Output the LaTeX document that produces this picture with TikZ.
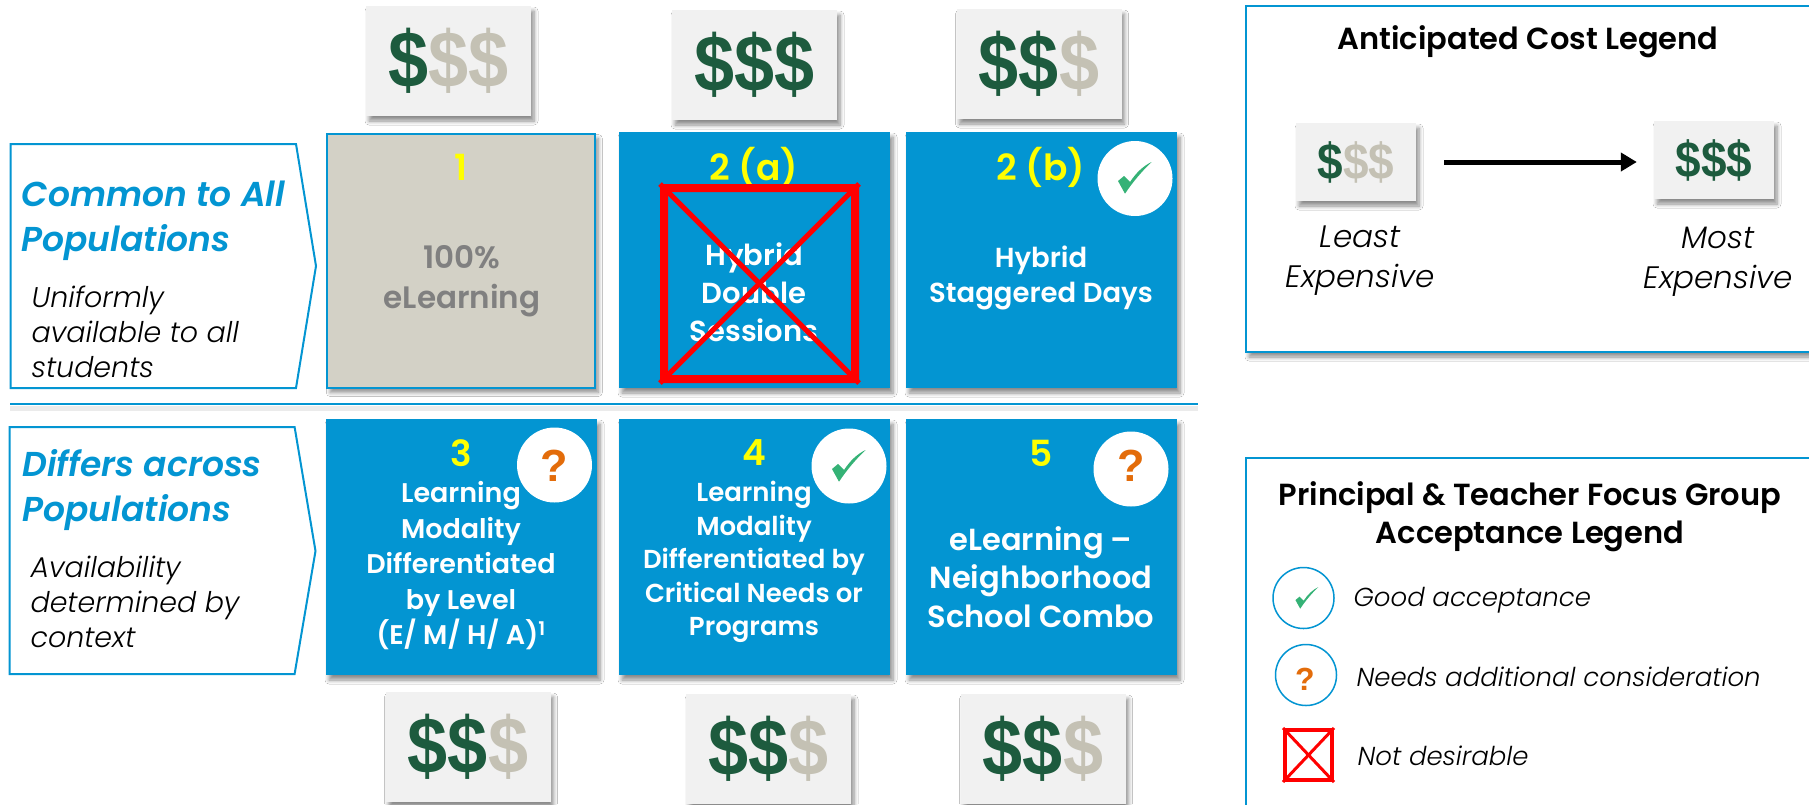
\documentclass[tikz,border=0pt]{standalone}
\usepackage{fontspec}
\setmainfont{Poppins}[UprightFont=* SemiBold,ItalicFont=* Light Italic,BoldFont=* SemiBold,BoldItalicFont=* SemiBold Italic]
\newfontfamily\costfont{Liberation Sans}[FakeStretch=0.9]
\newfontfamily\askfont{Liberation Sans}
\usetikzlibrary{shadows.blur,arrows.meta}
\definecolor{planblue}{HTML}{0395D2}
\definecolor{costgreen}{HTML}{1D5B3E}
\definecolor{costgrey}{HTML}{C4C1B4}
\definecolor{tagfill}{HTML}{F1F1F1}
\definecolor{elearnfill}{HTML}{D3D1C6}
\definecolor{checkgreen}{HTML}{35B276}
\definecolor{askorange}{HTML}{E36C0A}
\definecolor{numyellow}{HTML}{FFFF00}
\newcommand{\pxfont}[2]{\fontsize{#1}{#2}\selectfont}
\newcommand{\pricesigns}[2]{\textcolor{costgreen}{#1}\textcolor{costgrey}{#2}}
\tikzset{
  softshadow/.style={blur shadow={shadow xshift=3pt,shadow yshift=-5pt,shadow blur radius=4pt,shadow blur steps=6,shadow opacity=45}},
  pricetag/.style={fill=tagfill,inner sep=0pt,minimum width=165,minimum height=110,softshadow,font=\costfont\bfseries\pxfont{80}{80}},
  smalltag/.style={fill=tagfill,inner sep=0pt,minimum width=120,minimum height=78,softshadow,font=\costfont\bfseries\pxfont{51}{51}},
  planbox/.style={fill=planblue,inner sep=0pt,minimum width=271,minimum height=256,softshadow},
  cardnum/.style={text=numyellow,font=\bfseries\pxfont{36}{36}},
  cardtext/.style={text=white,align=center,font=\bfseries},
  groupbox/.style={draw=planblue,line width=2pt,fill=white},
  grouphead/.style={text=planblue,align=left,anchor=west,font=\bfseries\itshape\pxfont{34.5}{45}},
  groupnote/.style={text=black,align=left,anchor=west,font=\itshape\pxfont{28.5}{35}},
  legendbox/.style={draw=planblue,line width=2pt,fill=white,softshadow},
  legendhead/.style={text=black,align=center,font=\bfseries\pxfont{30.5}{38}},
  legendnote/.style={text=black,anchor=west,font=\itshape\pxfont{26}{30}},
  badge/.style={circle,fill=white,inner sep=0pt,minimum size=75},
  keyring/.style={circle,draw=planblue,line width=1.5pt,fill=white,inner sep=0pt,minimum size=61},
  askmark/.style={text=askorange,inner sep=0pt,font=\askfont\bfseries\pxfont{45}{45}},
  crossbox/.style={draw=red,line width=8pt,rounded corners=1pt},
  crossline/.style={draw=red,line width=5pt},
  checkmark/.pic={\fill[checkgreen] (-17,3) -- (-11,-2) -- (-5,4) .. controls (1,-5) and (8,-12) .. (16.6,-16) .. controls (7,-7) and (-3,5) .. (-10,15.7) -- cycle;}
}
\begin{document}
\begin{tikzpicture}[x=1pt,y=-1pt]
    \useasboundingbox (0,0) rectangle (1809,804);
    \fill[white] (0,0) rectangle (1809,804);
    % top row of price tags
    \node[pricetag] (tagA) at (448.5,61) {\pricesigns{\$}{\$\$}};
    \node[pricetag] (tagB) at (754.5,65) {\pricesigns{\$\$\$}{}};
    \node[pricetag] (tagC) at (1039,64) {\pricesigns{\$\$}{\$}};
    % groups
    \draw[groupbox] (10.7,144) -- (296,144) -- (316,266) -- (296,388) -- (10.7,388) -- cycle;
    \draw[groupbox] (9.5,427) -- (294.6,427) -- (315.5,551) -- (294.6,674) -- (9.5,674) -- cycle;
    \node[grouphead] (commonhead) at (18,220.5) {Common to All\\Populations};
    \node[groupnote] (commonnote) at (28,332) {Uniformly\\available to all\\students};
    \node[grouphead] (differshead) at (19,490.5) {Differs across\\Populations};
    \node[groupnote] (differsnote) at (27,602) {Availability\\determined by\\context};
    % first row
    \node[planbox,draw=planblue,line width=2pt,fill=elearnfill,minimum width=268,minimum height=254] (planA) at (461.3,260.5) {};
    \node[planbox] (planB) at (754.5,260) {};
    \node[planbox] (planC) at (1041.5,260) {};
    \node[cardnum] (numA) at (461,167) {1};
    \node[cardnum] (numB) at (754,167) {2 (a)};
    \node[cardnum] (numC) at (1041,167) {2 (b)};
    \node[cardtext,text=black!50,font=\bfseries\pxfont{31}{40}] (textA) at (462,281) {100\%\\eLearning};
    \node[cardtext,font=\bfseries\pxfont{29}{38}] (textB) at (754,292) {Hybrid\\Double\\Sessions};
    \node[cardtext,font=\bfseries\pxfont{27.5}{35}] (textC) at (1041,278) {Hybrid\\Staggered Days};
    \node[crossbox,inner sep=0pt,minimum width=191,minimum height=191] (cross) at (759.5,283.5) {};
    \draw[crossline] (cross.north west) -- (cross.south east);
    \draw[crossline] (cross.north east) -- (cross.south west);
    \node[badge] (badgeC) at (1135,178.5) {};
    \pic at (1135,178) {checkmark};
    % divider
    \coordinate (ruleL) at (10,404);
    \coordinate (ruleR) at (1198,404);
    \draw[black!8,line width=5pt] ([yshift=-4pt]ruleL) -- ([yshift=-4pt]ruleR);
    \draw[planblue,line width=2pt] (ruleL) -- (ruleR);
    % second row
    \node[planbox] (planD) at (461.5,547) {};
    \node[planbox] (planE) at (754.5,547) {};
    \node[planbox] (planF) at (1041.5,547) {};
    \node[cardnum] (numD) at (461,453) {3};
    \node[cardnum] (numE) at (754,453) {4};
    \node[cardnum] (numF) at (1041,453) {5};
    \node[cardtext,font=\bfseries\pxfont{27}{35.5}] (textD) at (461,566) {Learning\\Modality\\Differentiated\\by Level\\(E/ M/ H/ A)\textsuperscript{1}};
    \node[cardtext,font=\bfseries\pxfont{26}{33.5}] (textE) at (754,562) {Learning\\Modality\\Differentiated by\\Critical Needs or\\Programs};
    \node[cardtext,font=\bfseries\pxfont{30.5}{38.5}] (textF) at (1041,577) {eLearning --\\Neighborhood\\School Combo};
    \node[badge] (badgeD) at (554.5,465) {};
    \node[askmark] (markD) at (554,466) {?};
    \node[badge] (badgeE) at (849,466) {};
    \pic at (849,466) {checkmark};
    \node[badge] (badgeF) at (1131,469) {};
    \node[askmark] (markF) at (1131,466) {?};
    % bottom row of price tags
    \node[pricetag] (tagD) at (468,747) {\pricesigns{\$\$}{\$}};
    \node[pricetag] (tagE) at (768.5,749) {\pricesigns{\$\$}{\$}};
    \node[pricetag] (tagF) at (1043,749) {\pricesigns{\$\$}{\$}};
    % cost legend
    \draw[legendbox] (1246,5.5) rectangle (1830,352);
    \node[legendhead] (costhead) at (1528,41.5) {Anticipated Cost Legend};
    \node[smalltag] (leastcost) at (1356,162) {\pricesigns{\$}{\$\$}};
    \node[smalltag] (mostcost) at (1714,160) {\pricesigns{\$\$\$}{}};
    \draw[black,line width=5pt,-{Triangle[length=16pt,width=18pt]},shorten <=28pt,shorten >=17pt] (leastcost.east) -- (leastcost.east -| mostcost.west);
    \node[cardtext,text=black,font=\itshape\pxfont{31}{40}] (leastnote) at (1360,261) {Least\\Expensive};
    \node[cardtext,text=black,font=\itshape\pxfont{31}{40}] (mostnote) at (1718,262) {Most\\Expensive};
    % acceptance legend
    \draw[legendbox] (1246,458) rectangle (1830,830);
    \node[legendhead] (acceptancehead) at (1530,517) {Principal \& Teacher Focus Group\\Acceptance Legend};
    \node[keyring] (goodring) at (1303.5,598) {};
    \pic[scale=0.68] at (1307,598) {checkmark};
    \node[legendnote] (goodnote) at (1350,600) {Good acceptance};
    \node[keyring] (needsring) at (1306,675) {};
    \node[askmark,font=\askfont\bfseries\pxfont{32}{32}] (needsmark) at (1305,679) {?};
    \node[legendnote] (needsnote) at (1353,677) {Needs additional consideration};
    \node[draw=red,line width=4pt,inner sep=0pt,minimum width=47,minimum height=50] (notbox) at (1308.5,755) {};
    \draw[red,line width=3pt] (notbox.north west) -- (notbox.south east);
    \draw[red,line width=3pt] (notbox.north east) -- (notbox.south west);
    \node[legendnote] (notnote) at (1354,756) {Not desirable};
\end{tikzpicture}
\end{document}
